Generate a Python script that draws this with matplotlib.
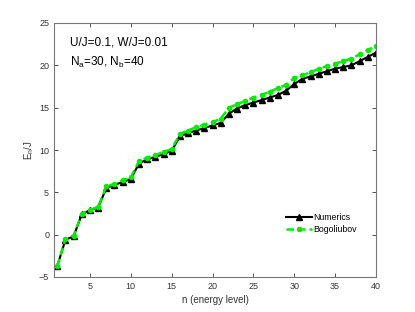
import numpy as np
import matplotlib
matplotlib.use('Agg')
import matplotlib.pyplot as plt

plt.rcParams['font.family'] = ['Liberation Sans', 'DejaVu Sans']
plt.rcParams['mathtext.default'] = 'regular'

n = np.arange(1, 41)
numerics = [-3.7, -0.6, -0.2, 2.4, 2.9, 3.2, 5.5, 5.9, 6.2, 6.6,
            8.4, 8.9, 9.2, 9.5, 9.9, 11.6, 12.0, 12.3, 12.6, 12.9,
            13.2, 14.3, 14.9, 15.3, 15.6, 15.9, 16.2, 16.5, 17.0, 17.8,
            18.4, 18.7, 19.0, 19.3, 19.6, 19.8, 20.0, 20.5, 21.0, 21.5]
bogoliubov = [-3.7, -0.5, -0.1, 2.5, 2.9, 3.3, 5.7, 6.0, 6.4, 6.8,
              8.7, 9.1, 9.4, 9.8, 10.1, 11.9, 12.3, 12.7, 13.0, 13.3,
              13.7, 15.0, 15.4, 15.8, 16.2, 16.5, 16.9, 17.3, 17.7, 18.5,
              18.8, 19.2, 19.6, 19.9, 20.2, 20.5, 20.8, 21.3, 21.8, 22.3]

fig = plt.figure(figsize=(4.15, 3.12), dpi=100)
ax = fig.add_axes([54/415, 1 - 277/312, 322/415, 254/312])

ax.plot(n, numerics, '-^', color='k', lw=1.5, ms=4.5, label='Numerics')
ax.plot(n, bogoliubov, '--o', color='#00ee00', lw=1.8, ms=3.0,
        dashes=(3, 1.6), label='Bogoliubov')

ax.set_xlim(0.6, 40)
ax.set_ylim(-5, 25)
ax.set_xticks(range(5, 41, 5))
ax.set_yticks(range(-5, 26, 5))
ax.tick_params(direction='in', top=True, right=True, labelsize=6.5,
               length=3, width=0.6, colors='#333333')
for s in ax.spines.values():
    s.set_color('#777777')
    s.set_linewidth(0.8)

ax.set_xlabel('n (energy level)', fontsize=7, color='#333333', labelpad=3)
ax.set_ylabel('$E_n$/J', fontsize=7, color='#333333', labelpad=2)

ax.text(0.05, 0.925, 'U/J=0.1, W/J=0.01', transform=ax.transAxes,
        fontsize=8.5, va='center')
ax.text(0.05, 0.845, '$N_a$=30, $N_b$=40', transform=ax.transAxes,
        fontsize=8.5, va='center')

ax.legend(loc='center left', bbox_to_anchor=(0.695, 0.21), frameon=False,
          fontsize=6.3, handlelength=3, labelspacing=0.4, handletextpad=0.2)

fig.savefig('out.png', dpi=100)
